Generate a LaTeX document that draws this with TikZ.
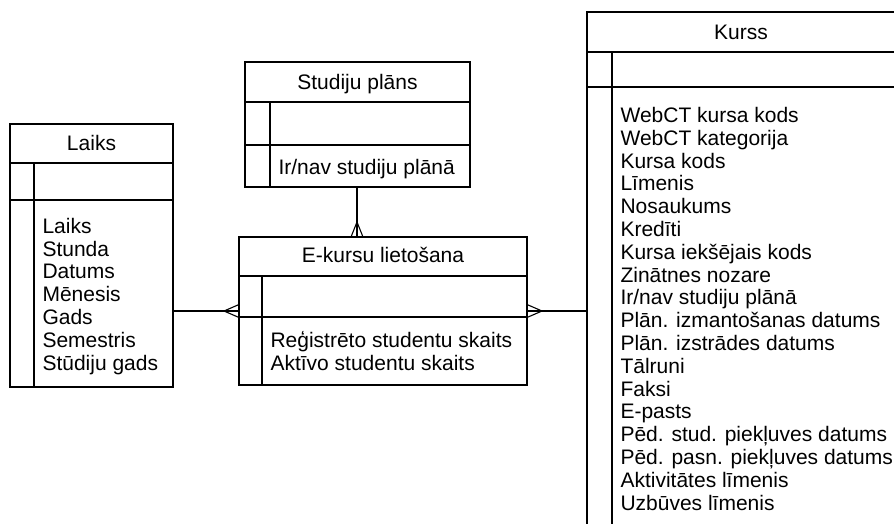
\documentclass[tikz,border=0pt]{standalone}
\usepackage{fontspec}
\setmainfont{Liberation Sans}
\begin{document}
\begin{tikzpicture}[x=1pt,y=-1pt,line width=1.1pt,
  frame/.style={draw,rectangle,inner sep=0pt,outer sep=0pt,anchor=north west},
  head/.style={font=\fontsize{21}{22.8}\selectfont,anchor=base,inner sep=0pt},
  attrs/.style={font=\fontsize{21}{22.8}\selectfont,align=left,anchor=base west,inner sep=0pt}]
\useasboundingbox (0,0) rectangle (894,523);
\clip (0,0) rectangle (894,523);

% entity frames
\node[frame,minimum width=163,minimum height=263] (laiks) at (10,124) {};
\node[frame,minimum width=225,minimum height=125] (sp) at (245,62) {};
\node[frame,minimum width=288,minimum height=148] (ek) at (239,237) {};
\node[frame,minimum width=309,minimum height=520] (ku) at (587,12) {};

% Laiks: title, key and attribute compartments
% (attribute nodes are placed by the baseline of their last line)
\draw (laiks.west |- 0,163) -- (laiks.east |- 0,163);
\draw (laiks.west |- 0,200) -- (laiks.east |- 0,200);
\draw (34,163) -- (laiks.south -| 34,0);
\node[head] (laiksT) at (91.5,150) {Laiks};
\node[attrs] (laiksA) at (42,370) {Laiks\\Stunda\\Datums\\Mēnesis\\Gads\\Semestris\\Stūdiju gads};

% Studiju plāns
\draw (sp.west |- 0,102) -- (sp.east |- 0,102);
\draw (sp.west |- 0,145) -- (sp.east |- 0,145);
\draw (270,102) -- (sp.south -| 270,0);
\node[head] (spT) at (357.5,89) {Studiju plāns};
\node[attrs] (spA) at (278,174) {Ir/nav studiju plānā};

% E-kursu lietošana
\draw (ek.west |- 0,276) -- (ek.east |- 0,276);
\draw (ek.west |- 0,317) -- (ek.east |- 0,317);
\draw (262,276) -- (ek.south -| 262,0);
\node[head] (ekT) at (383,262) {E-kursu lietošana};
\node[attrs] (ekA) at (270,370) {Reģistrēto studentu skaits\\Aktīvo studentu skaits};

% Kurss
\draw (ku.west |- 0,52) -- (ku.east |- 0,52);
\draw (ku.west |- 0,87) -- (ku.east |- 0,87);
\draw (612,52) -- (ku.south -| 612,0);
\node[head] (kuT) at (741,39) {Kurss};
\node[attrs] (kuA) at (620,510) {WebCT kursa kods\\WebCT kategorija\\Kursa kods\\Līmenis\\Nosaukums\\Kredīti\\Kursa iekšējais kods\\Zinātnes nozare\\Ir/nav studiju plānā\\Plān. izmantošanas datums\\Plān. izstrādes datums\\Tālruni\\Faksi\\E-pasts\\Pēd. stud. piekļuves datums\\Pēd. pasn. piekļuves datums\\Aktivitātes līmenis\\Uzbūves līmenis};

% relationships with crow's feet at the E-kursu lietošana end
\coordinate (lvl) at (0,311);
\coordinate (vx) at (357,0);
\draw (laiks.east |- lvl) -- (ek.west |- lvl);
\draw (ek.west |- lvl) ++(-15,0) -- ++(15,-6.5) ++(-15,6.5) -- ++(15,6.5);
\draw (ek.east |- lvl) -- (ku.west |- lvl);
\draw (ek.east |- lvl) ++(15,0) -- ++(-15,-6.5) ++(15,6.5) -- ++(-15,6.5);
\draw (sp.south -| vx) -- (ek.north -| vx);
\draw (ek.north -| vx) ++(0,-15) -- ++(-6,15) ++(6,-15) -- ++(6,15);
\end{tikzpicture}
\end{document}
